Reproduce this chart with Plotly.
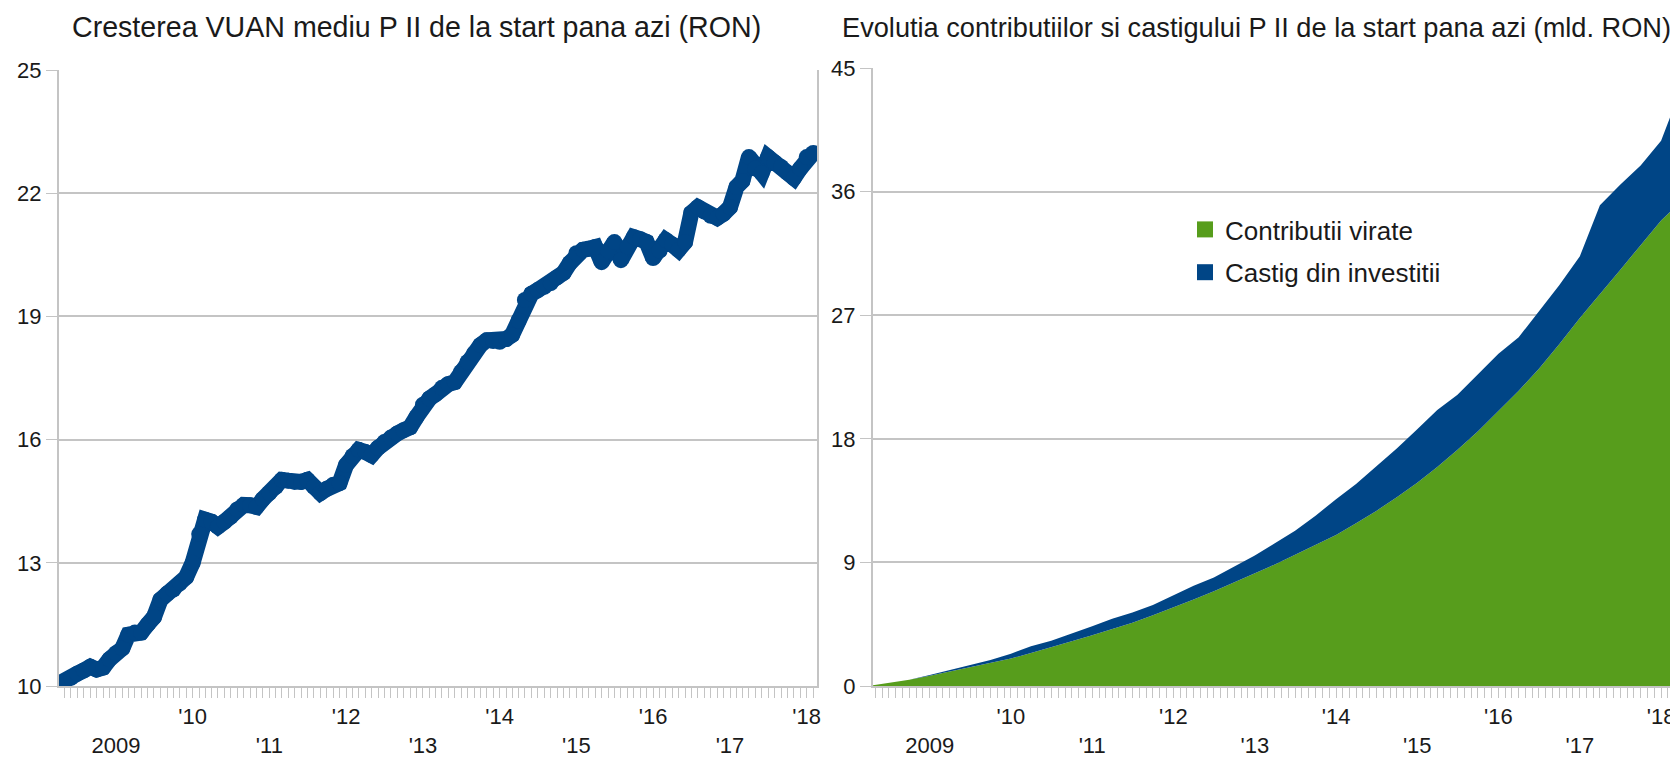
import pandas as pd
import plotly.graph_objects as go

W, H = 1678, 760
OFF = 8  # page body margin offset of the rendered figure
FONT = "Liberation Sans, Arial, sans-serif"
TEXT = "#1a1a1a"
GRID = "#c4c4c4"
BLUE = "#004586"
GREEN = "#579D1C"

# ---------------- data ----------------
# Left chart: VUAN mediu Pilonul II (RON), monthly Apr 2008 .. Feb 2018
vuan_dates = pd.date_range("2008-04-01", "2018-02-01", freq="MS")
vuan_values = [
    10.05, 10.1, 10.2, 10.3, 10.38, 10.47, 10.4, 10.45, 10.65,                   # 2008 Apr-Dec
    10.8, 10.92, 11.25, 11.3, 11.3, 11.5, 11.68, 12.1, 12.25, 12.35, 12.5, 12.65,  # 2009
    13.0, 13.7, 14.05, 14.0, 13.88, 14.0, 14.12, 14.3, 14.41, 14.4, 14.36, 14.55,  # 2010
    14.7, 14.85, 15.02, 15.0, 14.97, 14.97, 15.02, 14.85, 14.7, 14.8, 14.9, 14.94,  # 2011
    15.38, 15.6, 15.75, 15.7, 15.62, 15.8, 15.94, 16.05, 16.15, 16.23, 16.3, 16.55,  # 2012
    16.85, 17.0, 17.1, 17.26, 17.35, 17.4, 17.65, 17.89, 18.1, 18.3, 18.42, 18.4,   # 2013
    18.38, 18.45, 18.55, 18.9, 19.4, 19.55, 19.64, 19.72, 19.81, 19.95, 20.06, 20.3,  # 2014
    20.54, 20.62, 20.65, 20.69, 20.32, 20.6, 20.81, 20.37, 20.7, 20.93, 20.88, 20.81,  # 2015
    20.42, 20.6, 20.86, 20.75, 20.62, 20.81, 21.52, 21.66, 21.55, 21.45, 21.4, 21.5,  # 2016
    21.66, 22.15, 22.3, 22.88, 22.6, 22.49, 22.88, 22.75, 22.64, 22.5, 22.37, 22.6,  # 2017
    22.88, 22.98,                                                                     # 2018 Jan-Feb
]

# Right chart: contributions and total (mld. RON), quarterly
fund_dates = [
    "2008-04-01", "2008-07-01", "2008-10-01",
    "2009-01-01", "2009-04-01", "2009-07-01", "2009-10-01",
    "2010-01-01", "2010-04-01", "2010-07-01", "2010-10-01",
    "2011-01-01", "2011-04-01", "2011-07-01", "2011-10-01",
    "2012-01-01", "2012-04-01", "2012-07-01", "2012-10-01",
    "2013-01-01", "2013-04-01", "2013-07-01", "2013-10-01",
    "2014-01-01", "2014-04-01", "2014-07-01", "2014-10-01",
    "2015-01-01", "2015-04-01", "2015-07-01", "2015-10-01",
    "2016-01-01", "2016-04-01", "2016-07-01", "2016-10-01",
    "2017-01-01", "2017-04-01", "2017-07-01", "2017-10-01",
    "2018-01-01", "2018-02-15",
]
contributii = [
    0.0, 0.2, 0.45,
    0.75, 1.05, 1.35, 1.65,
    2.0, 2.4, 2.8, 3.25,
    3.7, 4.15, 4.6, 5.15,
    5.7, 6.3, 6.9, 7.55,
    8.2, 8.85, 9.55, 10.25,
    11.0, 11.85, 12.75, 13.75,
    14.8, 15.95, 17.2, 18.55,
    20.0, 21.5, 23.1, 24.9,
    26.8, 28.5, 30.3, 32.1,
    33.9, 34.6,
]
total_active = [
    0.0, 0.2, 0.45,
    0.8, 1.15, 1.5, 1.9,
    2.35, 2.9, 3.3, 3.8,
    4.35, 4.9, 5.35, 5.9,
    6.6, 7.3, 7.9, 8.7,
    9.5, 10.4, 11.3, 12.4,
    13.6, 14.7, 16.0, 17.3,
    18.7, 20.1, 21.2, 22.7,
    24.2, 25.4, 27.3, 29.2,
    31.3, 35.0, 36.5, 37.9,
    39.7, 41.6,
]

year_ticks = [f"{y}-01-01" for y in range(2009, 2019)]
year_labels = ["<br>2009", "'10", "<br>'11", "'12", "<br>'13",
               "'14", "<br>'15", "'16", "<br>'17", "'18"]

left_y_ticks = [10, 13, 16, 19, 22, 25]
right_y_ticks = [0, 9, 18, 27, 36, 45]

left_title = "Cresterea VUAN mediu P II de la start pana azi (RON)"
right_title = "Evolutia contributiilor si castigului P II de la start pana azi (mld. RON)"
series_names = ["Contributii virate", "Castig din investitii"]


def px_x(v):
    return (v - OFF) / W


def px_y(v):
    return 1 - (v - OFF) / H


# ---------------- figure ----------------
fig = go.Figure()

fig.add_trace(go.Scatter(
    x=vuan_dates, y=vuan_values, mode="lines+markers",
    line=dict(color=BLUE, width=16),
    marker=dict(color=BLUE, size=16, line=dict(width=0)),
    showlegend=False, xaxis="x", yaxis="y",
))

fig.add_trace(go.Scatter(
    x=fund_dates, y=contributii, mode="lines", fill="tozeroy",
    fillcolor=GREEN, line=dict(color=GREEN, width=0),
    showlegend=False, xaxis="x2", yaxis="y2",
))
fig.add_trace(go.Scatter(
    x=fund_dates, y=total_active, mode="lines", fill="tonexty",
    fillcolor=BLUE, line=dict(color=BLUE, width=0),
    showlegend=False, xaxis="x2", yaxis="y2",
))
# legend entries
for name, col in zip(series_names, [GREEN, BLUE]):
    fig.add_trace(go.Scatter(
        x=[None], y=[None], mode="markers", name=name,
        marker=dict(symbol="square", size=16, color=col),
        legendgroup=name, xaxis="x2", yaxis="y2",
    ))

tickfont = dict(family=FONT, size=22, color=TEXT)


def xaxis(domain, rng, anchor):
    return dict(
        domain=domain, anchor=anchor, type="date", range=rng, automargin=False,
        tickmode="array", tickvals=year_ticks, ticktext=year_labels,
        ticks="outside", ticklen=10, tickwidth=1, tickcolor=GRID,
        showline=True, linecolor=GRID, linewidth=2,
        showgrid=False, zeroline=False, tickfont=tickfont, ticklabelstandoff=0,
        minor=dict(ticks="outside", ticklen=10, tickwidth=1, tickcolor=GRID,
                   dtick="M1", tick0="2008-01-01", showgrid=False),
        fixedrange=True,
    )


def yaxis(domain, rng, ticks, anchor):
    return dict(
        domain=domain, anchor=anchor, range=rng, automargin=False,
        tickmode="array", tickvals=ticks,
        ticks="outside", ticklen=11, tickwidth=1, tickcolor=GRID,
        showline=True, mirror=True, linecolor=GRID, linewidth=2,
        showgrid=True, gridcolor=GRID, gridwidth=2,
        zeroline=False, tickfont=tickfont, ticklabelstandoff=0,
        fixedrange=True,
    )


fig.update_layout(
    width=W, height=H,
    margin=dict(l=0, r=0, t=0, b=0, autoexpand=False),
    paper_bgcolor="white", plot_bgcolor="white",
    font=dict(family=FONT, color=TEXT),
    xaxis=xaxis([px_x(59), px_x(817)], ["2008-04-05", "2018-02-19"], "y"),
    yaxis=yaxis([px_y(686), px_y(70)], [10, 25], left_y_ticks, "x"),
    xaxis2=xaxis([px_x(873), px_x(1672)], ["2008-04-21", "2018-02-19"], "y2"),
    yaxis2=yaxis([px_y(686), px_y(68)], [0, 45], right_y_ticks, "x2"),
    legend=dict(
        x=px_x(1185), y=px_y(206), xanchor="left", yanchor="top",
        font=dict(family=FONT, size=26, color=TEXT),
        bgcolor="rgba(0,0,0,0)", tracegroupgap=6, itemsizing="trace",
    ),
    showlegend=True,
    annotations=[
        dict(text=left_title, x=px_x(416), y=px_y(27), xref="paper", yref="paper",
             xanchor="center", yanchor="middle", showarrow=False,
             font=dict(family=FONT, size=28.6, color=TEXT)),
        dict(text=right_title, x=px_x(1256), y=px_y(27), xref="paper", yref="paper",
             xanchor="center", yanchor="middle", showarrow=False,
             font=dict(family=FONT, size=27.2, color=TEXT)),
    ],
)

fig.write_html("out.html")
